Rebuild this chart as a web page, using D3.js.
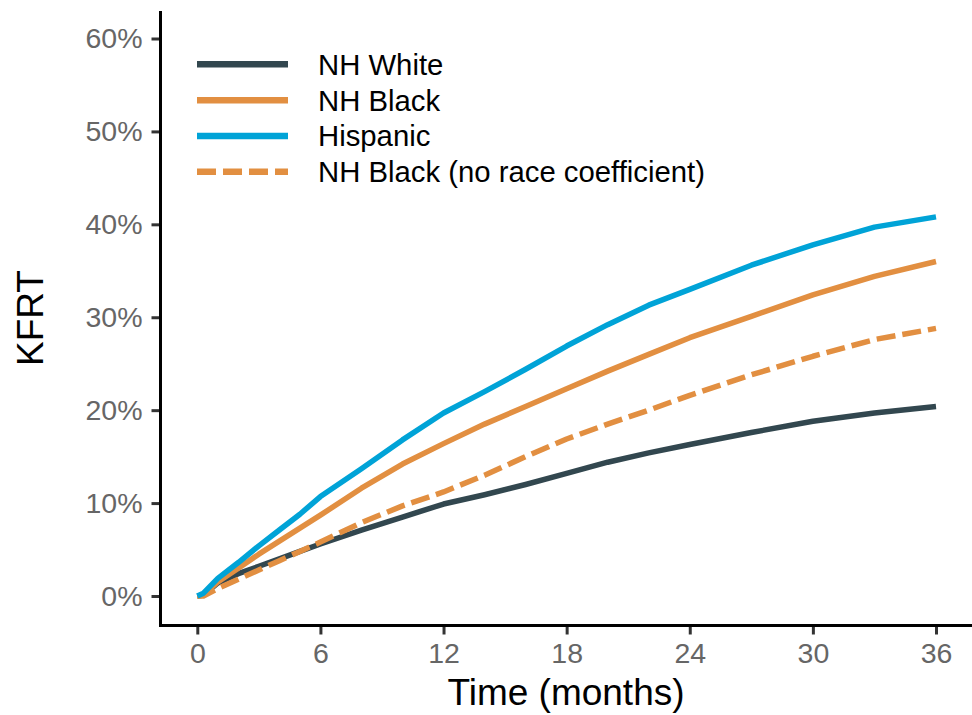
<!DOCTYPE html>
<html>
<head>
<meta charset="utf-8">
<script src="https://cdn.jsdelivr.net/npm/d3@7"></script>
<style>
  body { margin: 0; background: #fff; }
  svg { font-family: "Liberation Sans", Arial, sans-serif; }
</style>
</head>
<body>
<div id="chart"></div>
<script>
// data (months, KFRT %)
const months = [0, 0.3, 1, 2, 3, 4, 5, 6, 8, 10, 12, 14, 16, 18, 20, 22, 24, 27, 30, 33, 36];
const white = [0, 0.1, 1.4, 2.4, 3.2, 4.0, 4.8, 5.6, 7.1, 8.5, 9.9, 10.9, 12.0, 13.2, 14.4, 15.4, 16.3, 17.6, 18.8, 19.7, 20.4];
const black = [0, 0.1, 1.5, 3.0, 4.5, 5.9, 7.3, 8.7, 11.6, 14.2, 16.4, 18.5, 20.4, 22.3, 24.2, 26.0, 27.8, 30.1, 32.4, 34.4, 36.0];
const hispanic = [0, 0.3, 1.9, 3.6, 5.4, 7.1, 8.8, 10.7, 13.7, 16.8, 19.7, 22.0, 24.4, 26.9, 29.2, 31.3, 33.0, 35.6, 37.8, 39.7, 40.8];
const blackNoRace = [0, 0, 0.8, 1.8, 2.8, 3.8, 4.8, 5.8, 7.9, 9.7, 11.2, 13.0, 15.0, 16.9, 18.5, 20.0, 21.6, 23.8, 25.8, 27.6, 28.8];

const seriesNames = ["NH White", "NH Black", "Hispanic", "NH Black (no race coefficient)"];
const seriesValues = [white, black, hispanic, blackNoRace];
const seriesColors = ["#32474f", "#e28f41", "#00a3d7", "#e28f41"];
const seriesDash = [null, null, null, "19,7"];

const xTicks = [0, 6, 12, 18, 24, 30, 36];
const yTicks = [0, 10, 20, 30, 40, 50, 60];

const width = 972, height = 715;
const axisLeftX = 160.5, axisBottomY = 625.5;

const x = d3.scaleLinear().domain([0, 36]).range([197.3, 936]);
const y = d3.scaleLinear().domain([0, 60]).range([596, 38.5]);

const svg = d3.select("#chart").append("svg")
    .attr("width", width)
    .attr("height", height);

// lines
const line = d3.line()
    .x(d => x(d[0]))
    .y(d => y(d[1]));

const drawOrder = [0, 3, 1, 2];
drawOrder.forEach(i => {
    svg.append("path")
        .datum(months.map((m, j) => [m, seriesValues[i][j]]))
        .attr("fill", "none")
        .attr("stroke", seriesColors[i])
        .attr("stroke-width", 5.5)
        .attr("stroke-linejoin", "round")
        .attr("stroke-dasharray", seriesDash[i])
        .attr("d", line);
});

// axes
const xAxis = d3.axisBottom(x).tickValues(xTicks).tickSize(8).tickSizeOuter(0).tickPadding(8);
const yAxis = d3.axisLeft(y).tickValues(yTicks).tickSize(8).tickSizeOuter(0).tickPadding(9)
    .tickFormat(d => d + "%");

const gx = svg.append("g")
    .attr("transform", `translate(0, ${axisBottomY + 1})`)
    .call(xAxis);
const gy = svg.append("g")
    .attr("transform", `translate(${axisLeftX - 1}, 0)`)
    .call(yAxis);

[gx, gy].forEach(g => {
    g.select(".domain").remove();
    g.selectAll(".tick line").attr("stroke", "#333").attr("stroke-width", 3);
    g.selectAll(".tick text")
        .attr("fill", "#666")
        .style("font-size", "28.5px");
});
gx.selectAll(".tick text").attr("dy", "0.71em");

svg.append("line")
    .attr("x1", axisLeftX).attr("x2", axisLeftX)
    .attr("y1", 11).attr("y2", axisBottomY + 1.5)
    .attr("stroke", "#000").attr("stroke-width", 3);
svg.append("line")
    .attr("x1", axisLeftX - 1.5).attr("x2", width)
    .attr("y1", axisBottomY).attr("y2", axisBottomY)
    .attr("stroke", "#000").attr("stroke-width", 3);

// axis titles
svg.append("text")
    .attr("x", 566)
    .attr("y", 705)
    .attr("text-anchor", "middle")
    .style("font-size", "37px")
    .text("Time (months)");

svg.append("text")
    .attr("transform", `translate(43, 318) rotate(-90)`)
    .attr("text-anchor", "middle")
    .style("font-size", "37px")
    .text("KFRT");

// legend
const legendY = [64.3, 100.3, 136, 171.7];
const legend = svg.append("g");
seriesNames.forEach((name, i) => {
    legend.append("line")
        .attr("x1", 197).attr("x2", 288)
        .attr("y1", legendY[i]).attr("y2", legendY[i])
        .attr("stroke", seriesColors[i])
        .attr("stroke-width", 6.5)
        .attr("stroke-dasharray", seriesDash[i]);
    legend.append("text")
        .attr("x", 318)
        .attr("y", legendY[i])
        .attr("dy", "0.35em")
        .style("font-size", "29.3px")
        .attr("fill", "#000")
        .text(name);
});
</script>
</body>
</html>
